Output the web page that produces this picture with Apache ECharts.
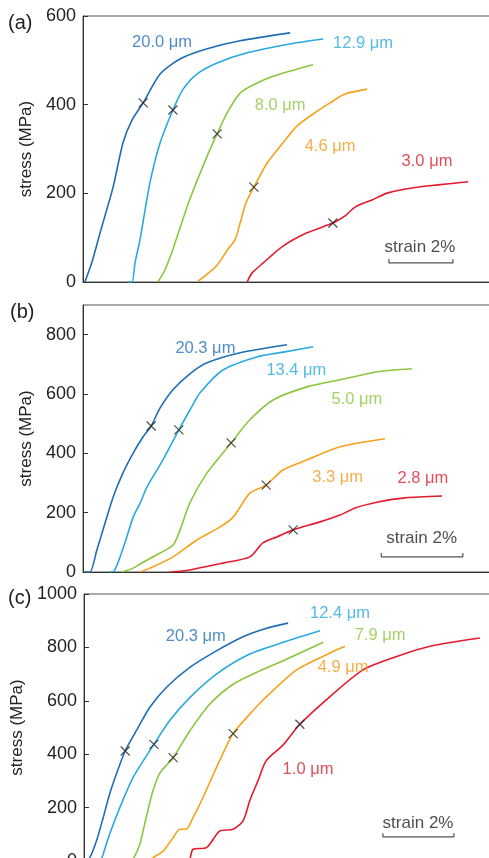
<!DOCTYPE html>
<html>
<head>
<meta charset="utf-8">
<script src="https://cdn.jsdelivr.net/npm/echarts@6/dist/echarts.min.js"></script>
<style>
html,body{margin:0;padding:0;background:#fff;}
#chart{width:489px;height:858px;}
</style>
</head>
<body>
<div id="chart"></div>
<script>
// ---------- DATA: [strain (%), stress (MPa)] ----------
// Panel (a)
const a_20_0 = [[0.06,0],[0.28,45],[0.53,110],[0.94,214],[1.25,314],[1.53,365],[1.88,404],[2.41,469],[3.03,503],[3.88,526],[4.91,544],[6.47,562]];
const a_12_9 = [[1.41,0],[1.53,0],[1.63,45],[1.78,95],[2.09,223],[2.41,314],[2.81,388],[3.13,435],[3.56,469],[4.19,494],[5.13,517],[6.47,537],[7.5,548]];
const a_8_0  = [[2.34,0],[2.56,27],[2.81,74],[3.34,187],[3.88,284],[4.19,334],[4.5,381],[4.91,426],[5.44,449],[6.16,469],[7.19,490]];
const a_4_6  = [[3.59,2],[3.88,18],[4.19,38],[4.53,74],[4.75,95],[4.91,133],[5.09,178],[5.34,214],[5.75,268],[6.25,314],[6.69,352],[7.19,379],[7.72,404],[8.19,424],[8.88,435]];
const a_3_0  = [[5.13,0],[5.28,20],[5.63,43],[6.25,81],[7.0,111],[7.81,133],[8.19,149],[8.5,169],[9.03,185],[9.53,201],[10.28,212],[11.09,219],[12.03,226]];
const a_marks = [[1.88,404],[2.81,388],[4.19,334],[5.34,214],[7.81,133]];
const a_names = ['20.0 μm','12.9 μm','8.0 μm','4.6 μm','3.0 μm'];

// Panel (b)
const b_20_3 = [[0.05,0],[0.17,0],[0.34,74],[0.49,142],[0.74,253],[0.98,334],[1.23,401],[1.47,455],[1.67,492],[1.89,553],[2.21,615],[2.62,668],[3.04,705],[3.85,739],[5.0,766]];
const b_13_4 = [[0.66,0],[0.76,3],[0.88,40],[1.05,108],[1.23,185],[1.4,232],[1.57,287],[1.96,378],[2.35,479],[2.62,546],[2.87,604],[3.43,681],[4.26,725],[4.95,742],[5.64,759]];
const b_5_0  = [[0.96,0],[1.23,13],[1.4,27],[1.89,64],[2.21,91],[2.38,142],[2.62,233],[3.04,334],[3.63,435],[4.09,513],[4.66,580],[5.49,624],[6.3,648],[7.23,675],[8.06,685]];
const b_3_3  = [[1.4,0],[1.64,13],[2.21,51],[2.79,108],[3.36,152],[3.68,185],[4.09,266],[4.49,293],[4.9,344],[5.49,378],[6.3,422],[7.4,449]];
const b_2_8  = [[2.13,0],[2.62,7],[3.43,30],[4.09,51],[4.41,98],[4.75,118],[5.15,142],[5.81,169],[6.3,192],[6.67,216],[7.23,236],[7.89,250],[8.8,256]];
const b_marks = [[1.67,492],[2.35,479],[3.63,435],[4.49,293],[5.15,142]];
const b_names = ['20.3 μm','13.4 μm','5.0 μm','3.3 μm','2.8 μm'];

// Panel (c)
const c_20_3 = [[0.03,0],[0.16,12],[0.35,75],[0.54,162],[0.72,250],[0.91,325],[1.16,412],[1.47,487],[1.85,575],[2.32,650],[2.98,725],[3.73,787],[4.48,840],[5.1,870],[5.75,891]];
const c_12_4 = [[0.45,0],[0.49,6],[0.72,100],[1.01,200],[1.38,312],[1.97,437],[2.41,525],[2.98,612],[3.73,700],[4.67,775],[5.61,819],[6.65,862]];
const c_7_9  = [[1.3,0],[1.38,6],[1.57,62],[1.75,162],[1.94,262],[2.14,330],[2.51,387],[2.98,487],[3.54,587],[4.2,662],[4.95,712],[5.61,750],[6.74,819]];
const c_4_9  = [[1.86,0],[1.94,12],[2.23,37],[2.51,87],[2.7,119],[2.88,119],[3.07,162],[3.35,237],[3.73,350],[4.2,477],[4.67,550],[5.05,604],[5.99,716],[6.93,779],[7.35,804]];
const c_1_0  = [[2.9,0],[2.98,6],[3.07,44],[3.45,50],[3.82,112],[4.2,119],[4.48,150],[4.68,230],[4.9,300],[5.13,375],[5.61,435],[6.08,512],[6.93,616],[7.86,716],[8.81,766],[9.75,804],[11.15,835]];
const c_marks = [[1.16,412],[1.97,437],[2.51,387],[4.2,477],[6.08,512]];
const c_names = ['20.3 μm','12.4 μm','7.9 μm','4.9 μm','1.0 μm'];

const yTicksA = [0,200,400,600];
const yTicksB = [0,200,400,600,800];
const yTicksC = [0,200,400,600,800,1000];
const scaleLabel = 'strain 2%';
const scaleLength = 2; // strain %

// ---------- LAYOUT / STYLE ----------
const COLORS = ['#1f6db5','#29a9e0','#8cc63f','#f7a11a','#e31b2d'];
const LABEL_COLORS = ['#2270b7','#29a9e0','#8cc63f','#f29a1d','#d9202e'];
const FONT = 'Liberation Sans, Arial, sans-serif';

const panels = [
  {tag:'(a)', curves:[a_20_0,a_12_9,a_8_0,a_4_6,a_3_0], marks:a_marks, names:a_names, ticks:yTicksA,
   grid:{left:83, top:16, height:266, width:407}, xmax:407/32, ymax:600,
   labelPos:[[2.47,541],[8.75,539],[6.16,399],[7.72,305],[10.75,271]],
   bar:{x:9.56, y:43, tick:9}, barText:[10.53,79], tagPos:[20,24]},
  {tag:'(b)', curves:[b_20_3,b_13_4,b_5_0,b_3_3,b_2_8], marks:b_marks, names:b_names, ticks:yTicksB,
   grid:{left:83, top:305, height:267, width:407}, xmax:407/40.8, ymax:900,
   labelPos:[[3.0,755],[5.23,678],[6.71,580],[6.24,320],[8.33,317]],
   bar:{x:7.31, y:51, tick:13}, barText:[8.3,115], tagPos:[22,313]},
  {tag:'(c)', curves:[c_20_3,c_12_4,c_7_9,c_4_9,c_1_0], marks:c_marks, names:c_names, ticks:yTicksC,
   grid:{left:84, top:594, height:267, width:406}, xmax:406/35.5, ymax:1000,
   labelPos:[[3.15,840],[7.21,926],[8.34,844],[7.3,724],[6.31,341]],
   bar:{x:8.42, y:90, tick:14}, barText:[9.41,142], tagPos:[20,599]}
];

const grids=[], xAxes=[], yAxes=[], series=[], graphics=[];
panels.forEach((p,i)=>{
  grids.push(Object.assign({show:true, borderColor:'#555', borderWidth:1, containLabel:false, outerBoundsMode:'none'}, p.grid));
  xAxes.push({type:'value', gridIndex:i, min:0, max:p.xmax, show:true,
    axisLine:{show:true, lineStyle:{color:'#333', width:1}}, axisTick:{show:false}, axisLabel:{show:false}, splitLine:{show:false}});
  yAxes.push({type:'value', gridIndex:i, min:0, max:p.ymax, interval:200,
    name:'stress (MPa)', nameLocation:'middle', nameRotate:90, nameGap:46,
    nameTextStyle:{fontFamily:FONT, fontSize:17, color:'#222'},
    axisLine:{show:true, lineStyle:{color:'#333', width:1}},
    axisTick:{show:true, inside:true, length:5, lineStyle:{color:'#333'}},
    axisLabel:{fontFamily:FONT, fontSize:18, color:'#222', margin:7, showMaxLabel: p.ticks[p.ticks.length-1]===p.ymax,
      formatter:v=> p.ticks.indexOf(v)>=0 ? String(v) : ''},
    splitLine:{show:false}});
  p.curves.forEach((c,k)=>{
    series.push({type:'line', xAxisIndex:i, yAxisIndex:i, data:c, showSymbol:false, smooth:0.25,
      lineStyle:{color:COLORS[k], width:1.6}, z:2, silent:true, animation:false});
  });
  series.push({type:'scatter', xAxisIndex:i, yAxisIndex:i, data:p.marks, symbol:'path://M0,0L10,10M10,0L0,10',
    symbolSize:9, itemStyle:{color:'none', borderColor:'#222', borderWidth:1.2}, z:5, silent:true, animation:false});
  // curve labels
  series.push({type:'scatter', xAxisIndex:i, yAxisIndex:i, symbolSize:1, itemStyle:{color:'rgba(0,0,0,0)'}, silent:true, animation:false,
    data:p.names.map((n,k)=>({value:p.labelPos[k], label:{show:true, position:'inside', formatter:n, color:LABEL_COLORS[k],
      fontFamily:FONT, fontSize:16.5}})), z:6});
  // scale bar
  const b=p.bar;
  series.push({type:'line', xAxisIndex:i, yAxisIndex:i, showSymbol:false, silent:true, animation:false,
    data:[[b.x,b.y+b.tick],[b.x,b.y],[b.x+scaleLength,b.y],[b.x+scaleLength,b.y+b.tick]],
    lineStyle:{color:'#555', width:1.2}, z:3});
  series.push({type:'scatter', xAxisIndex:i, yAxisIndex:i, symbolSize:1, itemStyle:{color:'rgba(0,0,0,0)'}, silent:true, animation:false,
    data:[{value:p.barText, label:{show:true, position:'inside', formatter:scaleLabel, color:'#222', fontFamily:FONT, fontSize:17}}]});
  graphics.push({type:'text', left:p.tagPos[0]-12, top:p.tagPos[1]-11, style:{text:p.tag, font:'20px '+FONT, fill:'#222'}});
});

const chart = echarts.init(document.getElementById('chart'), null, {renderer:'canvas'});
chart.setOption({animation:false, backgroundColor:'#fff', grid:grids, xAxis:xAxes, yAxis:yAxes, series:series, graphic:graphics});
</script>
</body>
</html>
